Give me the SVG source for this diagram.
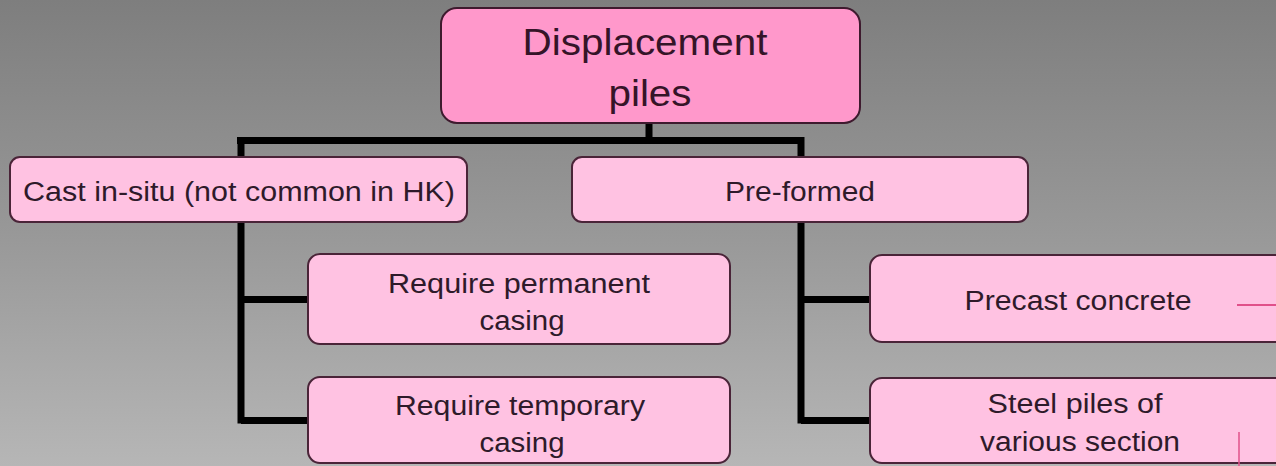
<svg xmlns="http://www.w3.org/2000/svg" width="1276" height="466" viewBox="0 0 1276 466">
<defs>
<linearGradient id="bg" x1="0" y1="0" x2="0" y2="1">
<stop offset="0" stop-color="#7e7e7e"/>
<stop offset="0.5" stop-color="#989898"/>
<stop offset="1" stop-color="#b6b6b6"/>
</linearGradient>
<style>
.box{fill:#ffc2e2;stroke:#4a2438;stroke-width:2}
.top{fill:#ff98cb;stroke:#3e1a2e;stroke-width:2}
.t{font-family:"Liberation Sans",Arial,sans-serif;font-size:27px;fill:#2e1a2a;text-anchor:middle}
.tb{font-family:"Liberation Sans",Arial,sans-serif;font-size:37px;fill:#351428;text-anchor:middle}
.c{stroke:#000;stroke-width:7;fill:none}
.r{stroke:#e0508a;stroke-width:2;fill:none}
</style>
</defs>
<rect x="0" y="0" width="1276" height="466" fill="url(#bg)"/>
<g id="connectors">
<path class="c" d="M649 123 V140.5 M237 140.5 H804 M241 137 V423.5 M241 299.5 H309 M241 420.5 H309 M801 137 V423.5 M801 299.5 H871 M801 420.5 H871"/>
</g>
<g id="root">
<rect class="top" x="441" y="8" width="419" height="115" rx="16"/>
<text class="tb" x="645" y="55" textLength="245" lengthAdjust="spacingAndGlyphs">Displacement</text>
<text class="tb" x="650" y="106" textLength="83" lengthAdjust="spacingAndGlyphs">piles</text>
</g>
<g id="cast">
<rect class="box" x="10" y="157" width="457" height="65" rx="10"/>
<text class="t" x="239" y="201" textLength="432" lengthAdjust="spacingAndGlyphs">Cast in-situ (not common in HK)</text>
</g>
<g id="preformed">
<rect class="box" x="572" y="157" width="456" height="65" rx="10"/>
<text class="t" x="800" y="201" textLength="150" lengthAdjust="spacingAndGlyphs">Pre-formed</text>
</g>
<g id="permanent">
<rect class="box" x="308" y="254" width="422" height="90" rx="12"/>
<text class="t" x="519" y="293" textLength="262" lengthAdjust="spacingAndGlyphs">Require permanent</text>
<text class="t" x="522" y="330" textLength="85" lengthAdjust="spacingAndGlyphs">casing</text>
</g>
<g id="temporary">
<rect class="box" x="308" y="377" width="422" height="86" rx="12"/>
<text class="t" x="520" y="415" textLength="250" lengthAdjust="spacingAndGlyphs">Require temporary</text>
<text class="t" x="522" y="452" textLength="85" lengthAdjust="spacingAndGlyphs">casing</text>
</g>
<g id="precast">
<rect class="box" x="870" y="255" width="422" height="87" rx="12"/>
<text class="t" x="1078" y="310" textLength="227" lengthAdjust="spacingAndGlyphs">Precast concrete</text>
<path class="r" d="M1237 305 H1276"/>
</g>
<g id="steel">
<rect class="box" x="870" y="378" width="422" height="85" rx="12"/>
<text class="t" x="1075" y="413" textLength="175" lengthAdjust="spacingAndGlyphs">Steel piles of</text>
<text class="t" x="1080" y="451" textLength="200" lengthAdjust="spacingAndGlyphs">various section</text>
<path class="r" d="M1239 432 V466" style="stroke-width:1.5"/>
</g>
</svg>
